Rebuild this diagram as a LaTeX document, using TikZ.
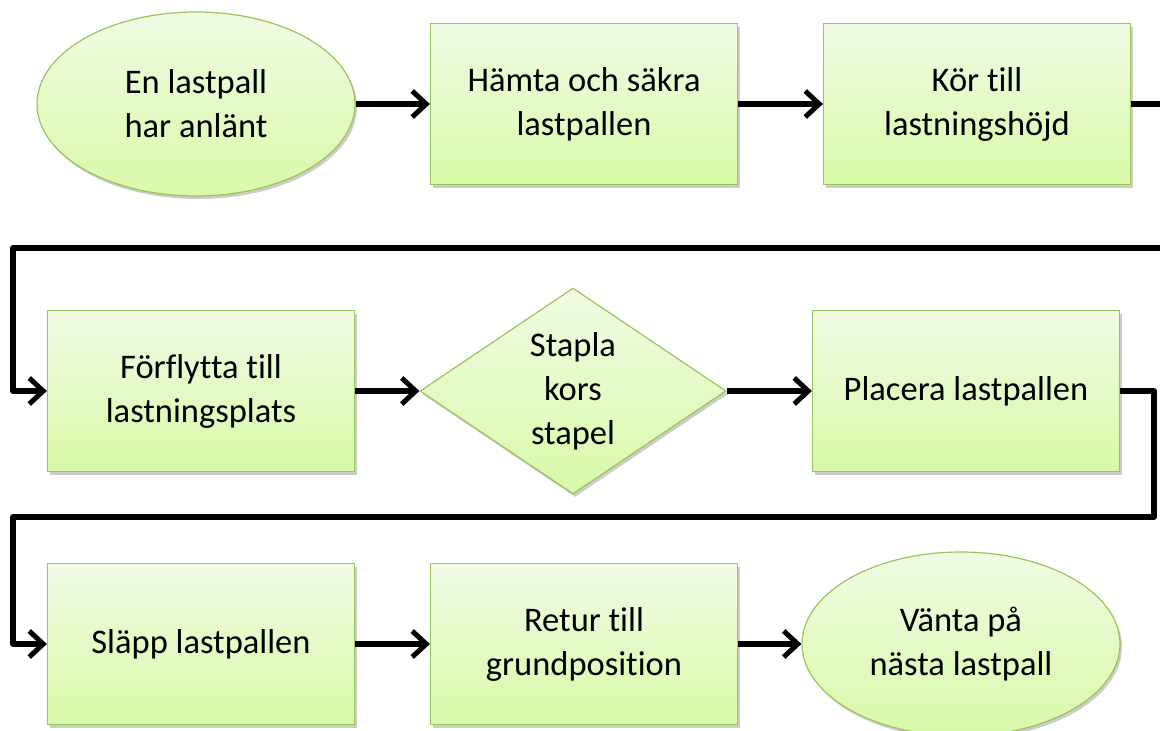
\documentclass[tikz,border=0pt]{standalone}
\usepackage{fontspec}
\setmainfont[Ligatures=NoCommon]{Carlito}
\usetikzlibrary{arrows.meta,shapes.geometric,shadows}

\definecolor{fillTop}{RGB}{241,251,228}
\definecolor{fillBot}{RGB}{216,249,168}
\definecolor{edgeGreen}{RGB}{155,196,90}

\tikzset{
  base/.style={draw=edgeGreen, line width=1.2pt, top color=fillTop, bottom color=fillBot,
    inner sep=0pt, align=center, font=\fontsize{34.5}{44}\selectfont,
    drop shadow={shadow xshift=2pt, shadow yshift=-3pt, opacity=0.2, fill=black}},
  procbox/.style={base, rectangle, minimum width=307pt, minimum height=161pt},
  terminal/.style={base, ellipse, minimum width=318pt, minimum height=184pt},
  decision/.style={base, diamond, minimum width=306pt, minimum height=206pt},
  conn/.style={line width=5.5pt, line join=round, draw=black,
    -{Straight Barb[length=14pt,width=26pt,line width=5pt]}},
}

\begin{document}
\begin{tikzpicture}[x=1pt,y=-1pt]
\useasboundingbox (0,0) rectangle (1160,731);

% first row
\node[terminal] (e1) at (196,104) {En lastpall\\har anlänt};
\node[procbox]  (b1) at (584,104) {Hämta och säkra\\lastpallen};
\node[procbox]  (b2) at (977,104) {Kör till\\lastningshöjd};

% second row
\node[procbox]  (b3) at (201,391) {Förflytta till\\lastningsplats};
\node[decision] (d)  at (573,391) {Stapla\\kors\\stapel};
\node[procbox]  (b4) at (966,391) {Placera lastpallen};

% third row
\node[procbox]  (b5) at (201,644) {Släpp lastpallen};
\node[procbox]  (b6) at (584,644) {Retur till\\grundposition};
\node[terminal] (e2) at (961,644) {Vänta på\\nästa lastpall};

% bend points of the long return connectors
\coordinate (r1) at (1163,248);
\coordinate (l1) at (13,248);
\coordinate (r2) at (1154,517);
\coordinate (l2) at (13,517);

\draw[conn] (e1.east) -- (b1.west);
\draw[conn] (b1.east) -- (b2.west);
\draw[conn] (b2.east) -| (r1) -- (l1) |- (b3.west);
\draw[conn] (b3.east) -- (d.west);
\draw[conn] (d.east) -- (b4.west);
\draw[conn] (b4.east) -| (r2) -- (l2) |- (b5.west);
\draw[conn] (b5.east) -- (b6.west);
\draw[conn] (b6.east) -- (e2.west);
\end{tikzpicture}
\end{document}
